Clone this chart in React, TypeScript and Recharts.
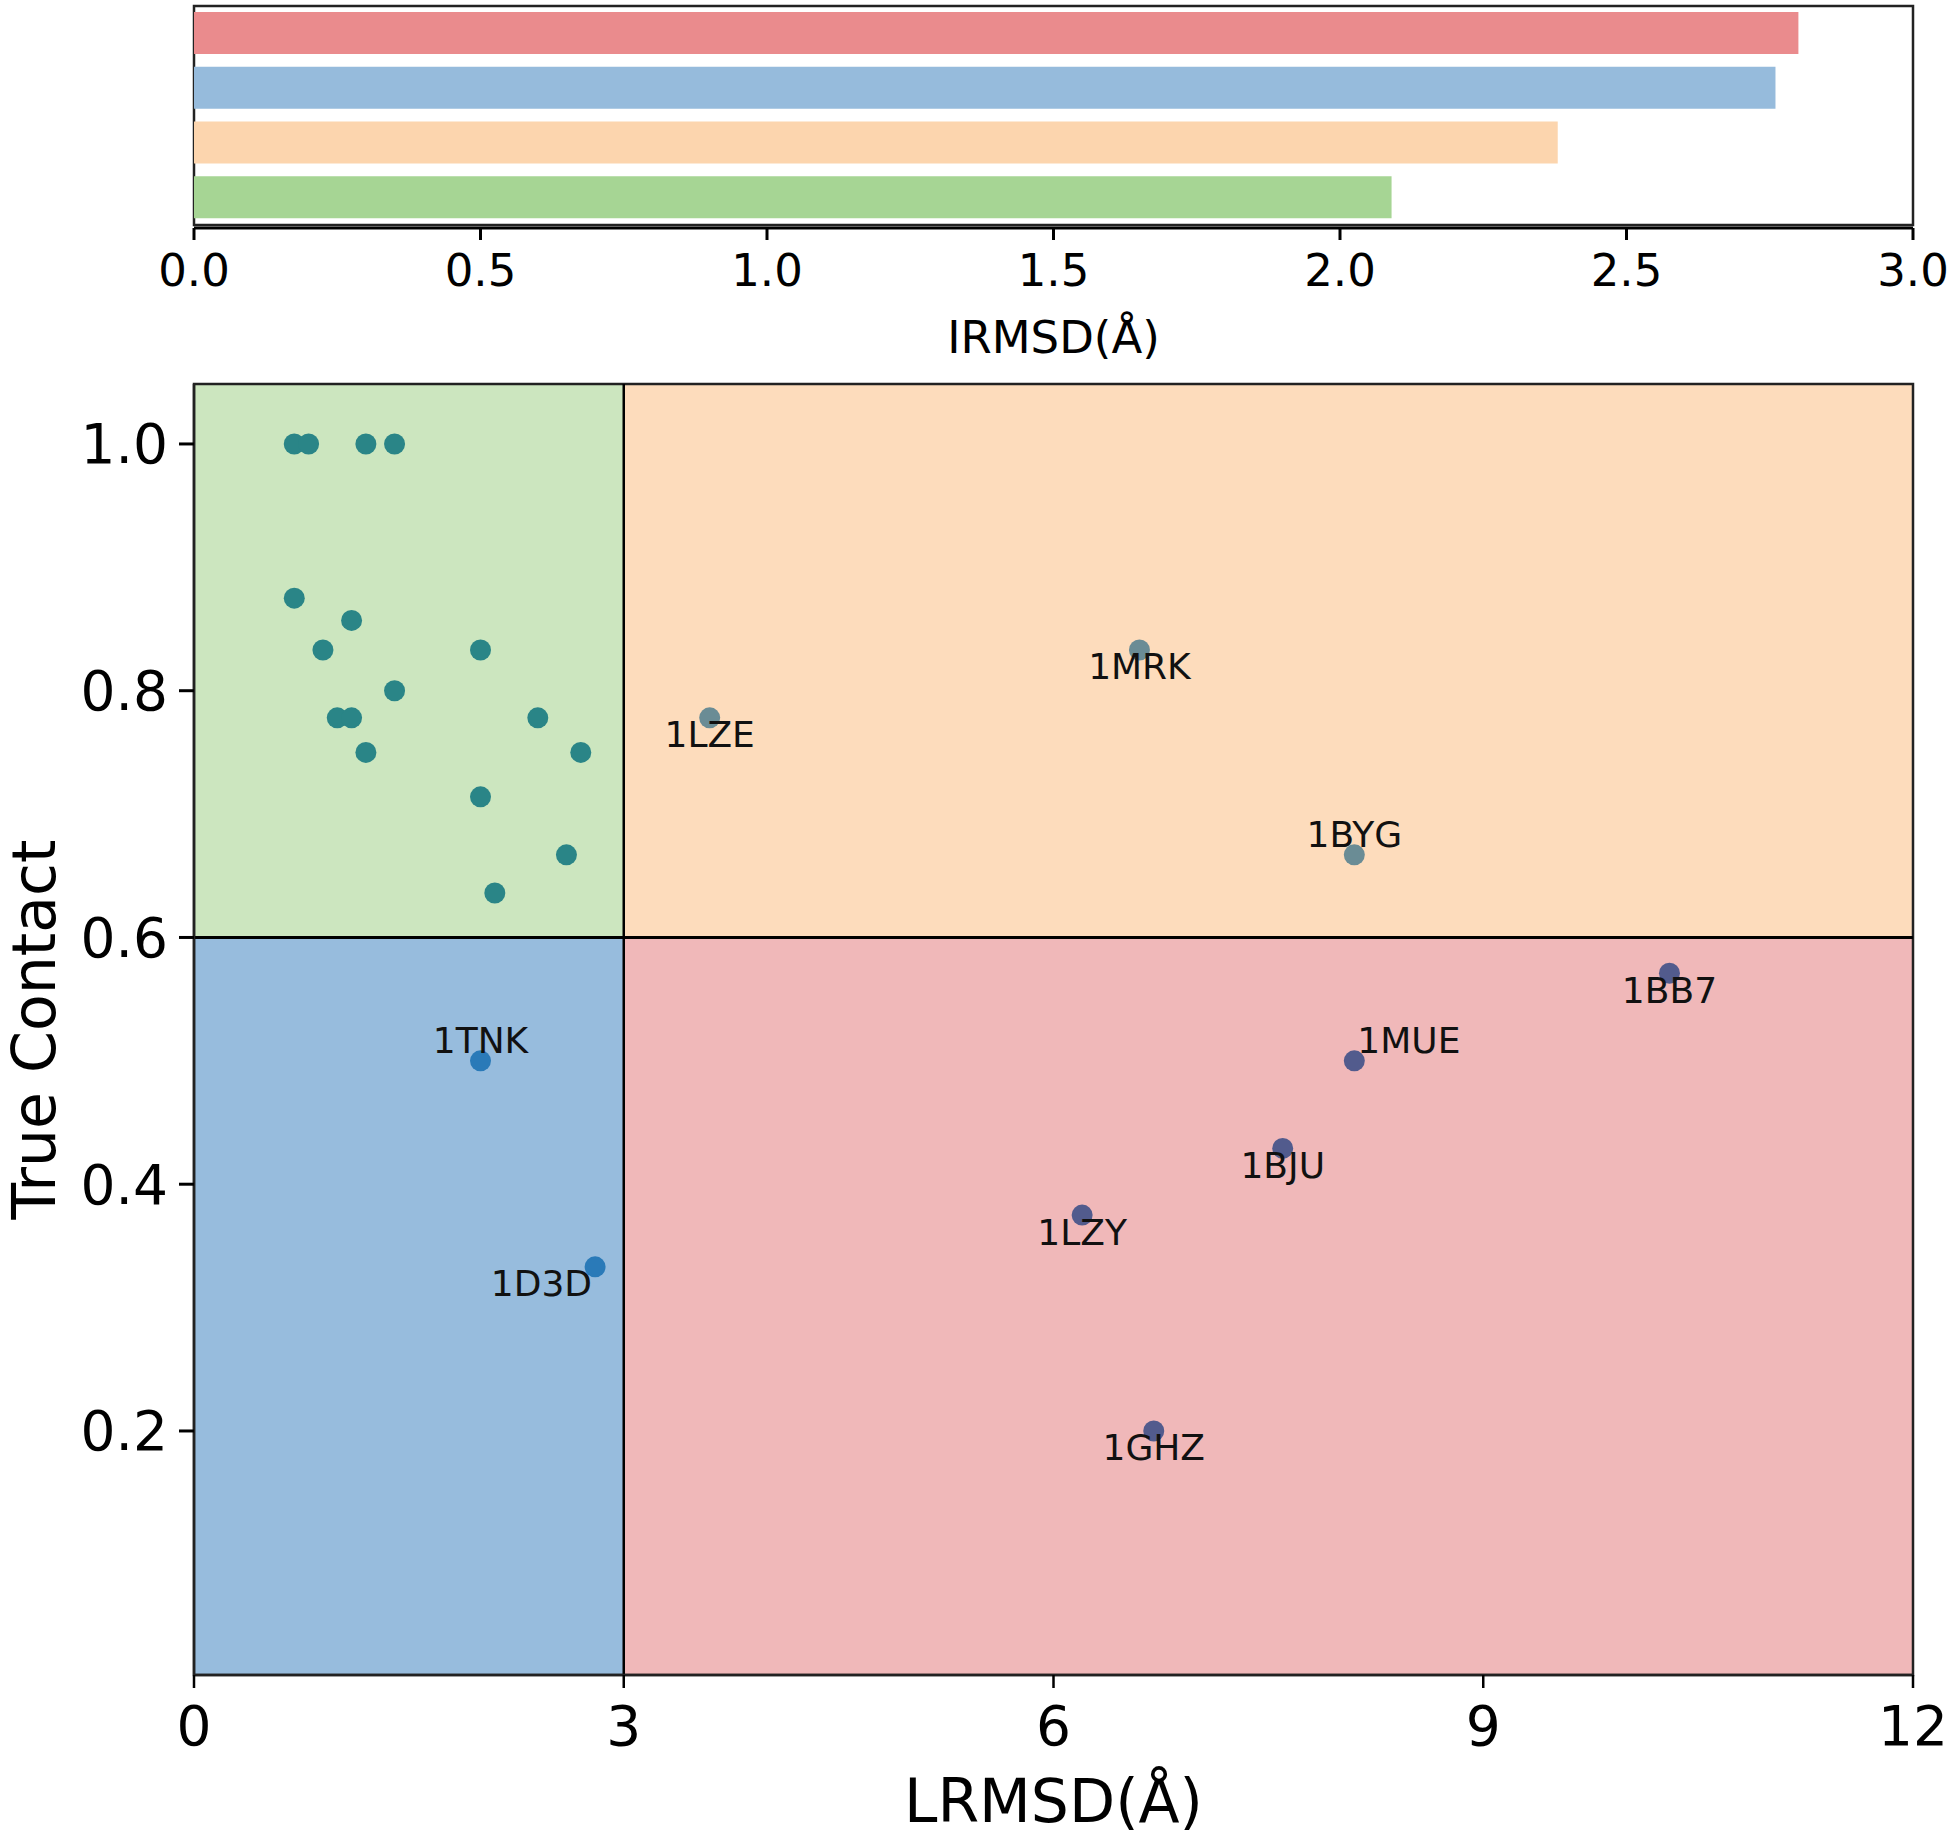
import React from 'react';
import {
  BarChart,
  Bar,
  XAxis,
  YAxis,
  Cell,
  ReferenceArea,
  ReferenceLine,
  ScatterChart,
  Scatter,
} from 'recharts';

// ---------- top bar chart data ----------
const barCategories = ['Incorrect', 'Low contact', 'High LRMSD', 'Near native'];
const barValues = [2.8, 2.76, 2.38, 2.09];
const barColors = ['#ea8b8d', '#96bbdc', '#fcd5ae', '#a6d594'];
const irmsdTicks = [0, 0.5, 1, 1.5, 2, 2.5, 3];

// ---------- scatter data ----------
const lrmsdTicks = [0, 3, 6, 9, 12];
const contactTicks = [0.2, 0.4, 0.6, 0.8, 1.0];

const nearNativePoints = [
  { x: 0.7, y: 1.0 },
  { x: 0.8, y: 1.0 },
  { x: 1.2, y: 1.0 },
  { x: 1.4, y: 1.0 },
  { x: 0.7, y: 0.875 },
  { x: 1.1, y: 0.857 },
  { x: 0.9, y: 0.833 },
  { x: 2.0, y: 0.833 },
  { x: 1.4, y: 0.8 },
  { x: 1.0, y: 0.778 },
  { x: 1.1, y: 0.778 },
  { x: 2.4, y: 0.778 },
  { x: 1.2, y: 0.75 },
  { x: 2.7, y: 0.75 },
  { x: 2.0, y: 0.714 },
  { x: 2.6, y: 0.667 },
  { x: 2.1, y: 0.636 },
];

const highLrmsdPoints = [
  { name: '1LZE', x: 3.6, y: 0.778 },
  { name: '1MRK', x: 6.6, y: 0.833 },
  { name: '1BYG', x: 8.1, y: 0.667 },
];

const lowContactPoints = [
  { name: '1TNK', x: 2.0, y: 0.5 },
  { name: '1D3D', x: 2.8, y: 0.333 },
];

const incorrectPoints = [
  { name: '1BB7', x: 10.3, y: 0.571 },
  { name: '1MUE', x: 8.1, y: 0.5 },
  { name: '1BJU', x: 7.6, y: 0.429 },
  { name: '1LZY', x: 6.2, y: 0.375 },
  { name: '1GHZ', x: 6.7, y: 0.2 },
];

// label placement (style config, in px)
const labelPlacement: Record<string, { dx: number; dy: number; anchor: string }> = {
  '1LZE': { dx: 0, dy: 17, anchor: 'middle' },
  '1MRK': { dx: 0, dy: 17, anchor: 'middle' },
  '1BYG': { dx: 0, dy: -20, anchor: 'middle' },
  '1TNK': { dx: 0, dy: -20, anchor: 'middle' },
  '1D3D': { dx: -3, dy: 17, anchor: 'end' },
  '1BB7': { dx: 0, dy: 17, anchor: 'middle' },
  '1MUE': { dx: 3, dy: -20, anchor: 'start' },
  '1BJU': { dx: 0, dy: 17, anchor: 'middle' },
  '1LZY': { dx: 0, dy: 17, anchor: 'middle' },
  '1GHZ': { dx: 0, dy: 17, anchor: 'middle' },
};

const FONT = 'DejaVu Sans, Verdana, sans-serif';

const barData = barCategories.map((name, i) => ({ name, value: barValues[i] }));

const makeShape = (color: string) => (props: any) => {
  const { cx, cy, payload } = props;
  const name = payload && payload.name;
  const p = name ? labelPlacement[name] : undefined;
  return (
    <g>
      <circle cx={cx} cy={cy} r={10.5} fill={color} />
      {p && (
        <text
          x={cx + p.dx}
          y={cy + p.dy}
          textAnchor={p.anchor as any}
          dominantBaseline="central"
          fontSize={36}
          fill="#111"
          fontFamily={FONT}
        >
          {name}
        </text>
      )}
    </g>
  );
};

export default function App() {
  return (
    <div
      style={{
        position: 'absolute',
        left: 0,
        top: 0,
        width: 1950,
        height: 1837,
        background: '#fff',
        fontFamily: FONT,
      }}
    >
      <div style={{ position: 'absolute', left: 0, top: 0 }}>
        <BarChart
          width={1950}
          height={380}
          data={barData}
          layout="vertical"
          margin={{ top: 3, right: 37, left: 194, bottom: 0 }}
        >
          <ReferenceArea x1={0} x2={3} fill="none" stroke="#222" strokeWidth={2.5} ifOverflow="visible" />
          <XAxis
            type="number"
            domain={[0, 3]}
            ticks={irmsdTicks}
            allowDataOverflow
            height={152}
            tickSize={12}
            tickMargin={14}
            tickFormatter={(v: number) => v.toFixed(1)}
            tick={{ fontSize: 45, fill: '#000', fontFamily: FONT }}
            tickLine={{ stroke: '#000', strokeWidth: 3 }}
            axisLine={{ stroke: '#000', strokeWidth: 3 }}
            label={{
              value: 'IRMSD(Å)',
              position: 'insideBottom',
              offset: 27,
              fontSize: 45,
              fill: '#000',
              fontFamily: FONT,
            }}
          />
          <YAxis type="category" dataKey="name" hide width={0} padding={{ top: 3, bottom: 3 }} />
          <Bar dataKey="value" barSize={42} isAnimationActive={false}>
            {barData.map((d, i) => (
              <Cell key={d.name} fill={barColors[i]} />
            ))}
          </Bar>
        </BarChart>
      </div>

      <div style={{ position: 'absolute', left: 0, top: 380 }}>
        <ScatterChart
          width={1950}
          height={1457}
          margin={{ top: 4, right: 37, left: 0, bottom: 0 }}
        >
          <XAxis
            type="number"
            dataKey="x"
            domain={[0, 12]}
            ticks={lrmsdTicks}
            allowDataOverflow
            height={162}
            tickSize={13}
            tickMargin={18}
            tick={{ fontSize: 55, fill: '#000', fontFamily: FONT }}
            tickLine={{ stroke: '#000', strokeWidth: 2.5 }}
            axisLine={{ stroke: '#222', strokeWidth: 2.5 }}
            label={{
              value: 'LRMSD(Å)',
              position: 'insideBottom',
              offset: 15,
              fontSize: 60,
              fill: '#000',
              fontFamily: FONT,
            }}
          />
          <YAxis
            type="number"
            dataKey="y"
            domain={[0.0022, 1.0486]}
            ticks={contactTicks}
            allowDataOverflow
            width={194}
            tickSize={15}
            tickMargin={11}
            tickFormatter={(v: number) => v.toFixed(1)}
            tick={{ fontSize: 55, fill: '#000', fontFamily: FONT }}
            tickLine={{ stroke: '#000', strokeWidth: 3 }}
            axisLine={{ stroke: '#222', strokeWidth: 2.5 }}
            label={{
              value: 'True Contact',
              angle: -90,
              position: 'center',
              dx: -63,
              fontSize: 60,
              fill: '#000',
              fontFamily: FONT,
            }}
          />
          <ReferenceArea x1={0} x2={3} y1={0.6} y2={1.0486} fill="#cce6bf" fillOpacity={1} stroke="none" />
          <ReferenceArea x1={3} x2={12} y1={0.6} y2={1.0486} fill="#fddcbc" fillOpacity={1} stroke="none" />
          <ReferenceArea x1={0} x2={3} y1={0.0022} y2={0.6} fill="#97bcdd" fillOpacity={1} stroke="none" />
          <ReferenceArea x1={3} x2={12} y1={0.0022} y2={0.6} fill="#f0b8b9" fillOpacity={1} stroke="none" />
          <ReferenceLine x={3} stroke="#000" strokeWidth={2.5} />
          <ReferenceLine y={0.6} stroke="#000" strokeWidth={3} />
          <ReferenceArea x1={0} x2={12} y1={0.0022} y2={1.0486} fill="none" stroke="#222" strokeWidth={2.5} />
          <Scatter data={nearNativePoints} isAnimationActive={false} shape={makeShape('#2a8587')} />
          <Scatter data={highLrmsdPoints} isAnimationActive={false} shape={makeShape('#6a8c95')} />
          <Scatter data={lowContactPoints} isAnimationActive={false} shape={makeShape('#2a7ab8')} />
          <Scatter data={incorrectPoints} isAnimationActive={false} shape={makeShape('#525b8d')} />
        </ScatterChart>
      </div>
    </div>
  );
}
